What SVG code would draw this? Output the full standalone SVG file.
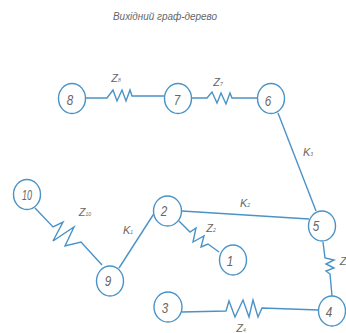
<svg xmlns="http://www.w3.org/2000/svg" width="346" height="333" viewBox="0 0 346 333">
<style>
.n{fill:#fff;stroke:#4a93c6;stroke-width:1.4}
.c{fill:none;stroke:#4a93c6;stroke-width:1.4;stroke-linejoin:miter}
text{font-family:"Liberation Sans","DejaVu Sans",sans-serif;font-style:italic;fill:#666;text-anchor:middle}
.t{font-size:14.500px}
.l{font-size:11px}
.s{font-size:5px}
</style>
<rect width="346" height="333" fill="#fff"/>
<text x="165" y="20" font-size="11" textLength="104" lengthAdjust="spacingAndGlyphs">Вихідний граф-дерево</text>
<g id="connectors">
<path class="c" d="M86 98H107L113 90L117 101L122 90L126 101L130 90L132 96L165 96"/>
<path class="c" d="M192 98H207L212 92L217 103L221 93L226 104L230 93L232 98L257 98"/>
<path class="c" d="M278 113L316 211"/>
<path class="c" d="M35 208L53 227L63 222L53 241L74 227L65 246L81 242L102 265"/>
<path class="c" d="M119 268L155 212"/>
<path class="c" d="M182 211L309 219"/>
<path class="c" d="M179 221L190 232L196 228L193 242L204 236L201 247L208 244L219 252"/>
<path class="c" d="M323 242L325 258L334 260L326 264L334 268L326 271L330 274L332 296"/>
<path class="c" d="M182 312L226 311L229 301L235 317L243 300L249 317L253 300L258 317L262 308L319 310"/>
</g>
<g id="node-8"><ellipse class="n" cx="72" cy="98.500" rx="13.500" ry="15"/><text class="t" x="70" y="104.500" textLength="6.500" lengthAdjust="spacingAndGlyphs">8</text></g>
<g id="node-7"><ellipse class="n" cx="178" cy="98.500" rx="13.500" ry="15"/><text class="t" x="177" y="104.500" textLength="6.500" lengthAdjust="spacingAndGlyphs">7</text></g>
<g id="node-6"><ellipse class="n" cx="271" cy="98.500" rx="13.500" ry="15"/><text class="t" x="268" y="106" textLength="6.500" lengthAdjust="spacingAndGlyphs">6</text></g>
<g id="node-10"><ellipse class="n" cx="27" cy="194.500" rx="13.500" ry="15"/><text class="t" x="27" y="199.500" textLength="10" lengthAdjust="spacingAndGlyphs">10</text></g>
<g id="node-9"><ellipse class="n" cx="110" cy="281" rx="13.500" ry="15"/><text class="t" x="108" y="286" textLength="6.500" lengthAdjust="spacingAndGlyphs">9</text></g>
<g id="node-2"><ellipse class="n" cx="167.500" cy="211" rx="14" ry="15"/><text class="t" x="164" y="216" textLength="6.500" lengthAdjust="spacingAndGlyphs">2</text></g>
<g id="node-3"><ellipse class="n" cx="168" cy="307" rx="14" ry="15"/><text class="t" x="165" y="313" textLength="6.500" lengthAdjust="spacingAndGlyphs">3</text></g>
<g id="node-1"><ellipse class="n" cx="233" cy="260" rx="13.500" ry="15"/><text class="t" x="230" y="266" textLength="6.500" lengthAdjust="spacingAndGlyphs">1</text></g>
<g id="node-5"><ellipse class="n" cx="322" cy="226" rx="13.500" ry="15"/><text class="t" x="316" y="231" textLength="6.500" lengthAdjust="spacingAndGlyphs">5</text></g>
<g id="node-4"><ellipse class="n" cx="332" cy="311" rx="13.500" ry="15"/><text class="t" x="329" y="316.500" textLength="6.500" lengthAdjust="spacingAndGlyphs">4</text></g>
<g id="labels">
<text class="l" x="116" y="82">Z<tspan class="s">8</tspan></text>
<text class="l" x="218" y="86">Z<tspan class="s">7</tspan></text>
<text class="l" x="308" y="156">K<tspan class="s">3</tspan></text>
<text class="l" x="85" y="216">Z<tspan class="s">10</tspan></text>
<text class="l" x="128" y="234">K<tspan class="s">1</tspan></text>
<text class="l" x="245" y="207">K<tspan class="s">2</tspan></text>
<text class="l" x="211" y="232">Z<tspan class="s">2</tspan></text>
<text class="l" x="343" y="265">Z</text>
<text class="l" x="241" y="332" font-size="10">Z<tspan class="s">4</tspan></text>
</g>
</svg>
